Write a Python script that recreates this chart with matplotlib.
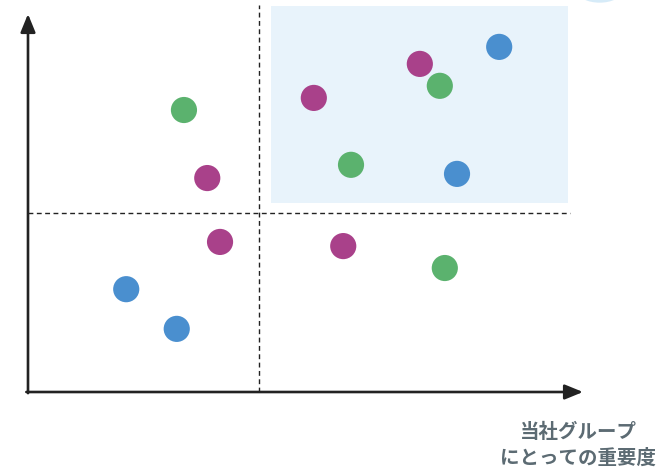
import matplotlib
matplotlib.use('Agg')
import matplotlib.pyplot as plt
from matplotlib.patches import Rectangle, Ellipse

plt.rcParams['font.family'] = ['Noto Sans CJK JP', 'DejaVu Sans']

# 点の位置（軸の範囲 0〜100）
blue_x = [84.9, 77.3, 17.7, 26.8]
blue_y = [91.3, 57.7, 27.2, 16.7]
purple_x = [70.6, 51.5, 32.3, 34.6, 56.8]
purple_y = [86.8, 77.8, 56.6, 39.7, 38.6]
green_x = [28.1, 74.2, 58.2, 75.1]
green_y = [74.6, 81.0, 60.1, 32.8]

x_split = 41.6
y_split = 47.4
xlabel = '当社グループ\nにとっての重要度'

fig = plt.figure(figsize=(6.7, 4.69), dpi=100)
W, H = 670, 469
ax = fig.add_axes([28 / W, 1 - 392 / H, 555 / W, 378 / H])
ax.set_xlim(0, 100)
ax.set_ylim(0, 100)
ax.axis('off')

# 右上の強調エリア
ax.add_patch(Rectangle((43.8, 50.0), 53.5, 52.1, facecolor='#e8f3fb',
                       edgecolor='none', clip_on=False, zorder=0))
ax.add_patch(Ellipse((103, 106), 8, 6, facecolor='#d6ebf8',
                     edgecolor='none', clip_on=False, zorder=0))

# 区切り線
ax.plot([x_split, x_split], [0, 102.4], color='#222222', lw=1.0,
        ls=(0, (3.5, 2.5)), clip_on=False, zorder=1)
ax.plot([0, 97.7], [y_split, y_split], color='#222222', lw=1.0,
        ls=(0, (3.5, 2.5)), clip_on=False, zorder=1)

# 軸の矢印
arrow = dict(arrowstyle='-|>,head_length=1.1,head_width=0.45',
             color='#222222', lw=1.9, shrinkA=0, shrinkB=0)
ax.annotate('', xy=(0, 100), xytext=(0, -0.3), arrowprops=arrow,
            annotation_clip=False)
ax.annotate('', xy=(100, 0), xytext=(-0.3, 0), arrowprops=arrow,
            annotation_clip=False)

s = 355
ax.scatter(blue_x, blue_y, s=s, color='#4a8fcf', edgecolors='none', zorder=3, clip_on=False)
ax.scatter(purple_x, purple_y, s=s, color='#a9418a', edgecolors='none', zorder=3, clip_on=False)
ax.scatter(green_x, green_y, s=s, color='#5bb26e', edgecolors='none', zorder=3, clip_on=False)

fig.text(578 / W, 1 - 445 / H, xlabel, ha='center', va='center',
         fontsize=14, fontweight='bold', color='#5c6b73', linespacing=1.45)

fig.savefig('out.png', dpi=100)
